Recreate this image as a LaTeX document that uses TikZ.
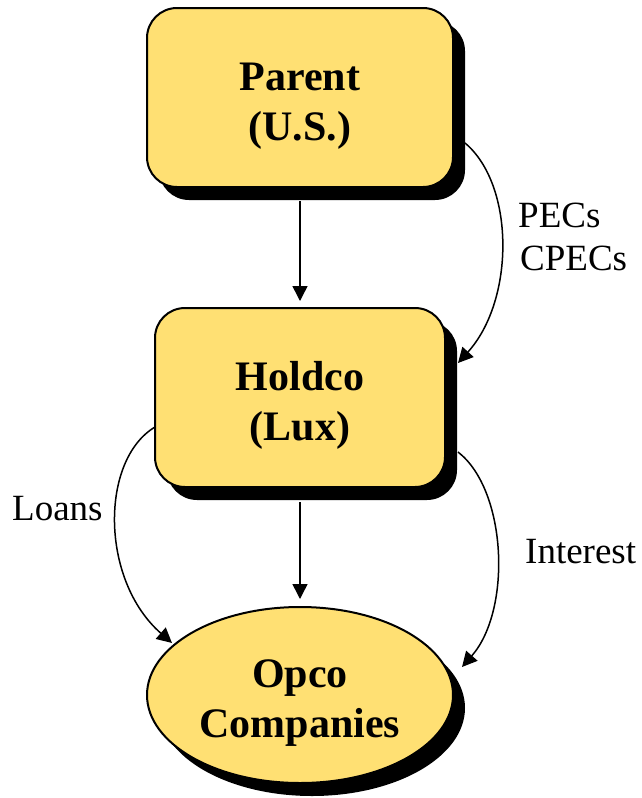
\documentclass[tikz,border=0pt]{standalone}
\usepackage{fontspec}
\setmainfont{Liberation Serif}
\usetikzlibrary{shadows,calc,arrows.meta,backgrounds,shapes.geometric}
\definecolor{boxfill}{RGB}{255,224,115}
% tall invisible strut on the first line pushes the two-line label down a little
\newcommand{\firststrut}{\rule{0pt}{44pt}}
\tikzset{
  entity/.style={draw=black, line width=2pt, fill=boxfill,
    font=\fontsize{42}{50}\selectfont\bfseries, align=center, inner sep=0pt,
    drop shadow={shadow xshift=12pt, shadow yshift=-13pt, fill=black, opacity=1}},
  entbox/.style={entity, rectangle, rounded corners=30pt},
  entoval/.style={entity, ellipse},
  flow/.style={line width=1.5pt, -{Triangle[length=15pt,width=15pt]}},
  flowlabel/.style={font=\fontsize{37}{43}\selectfont, inner sep=0pt}
}
\begin{document}
\begin{tikzpicture}[x=1pt,y=-1pt]
\useasboundingbox (0,0) rectangle (641,798);

\node[entbox, minimum width=306pt, minimum height=179pt] (parent) at (300,97.5) {\firststrut Parent\\(U.S.)};
\node[entbox, minimum width=290pt, minimum height=179pt] (holdco) at (300,397.5) {\firststrut Holdco\\(Lux)};
\node[entoval, minimum width=306pt, minimum height=176pt] (opco) at (300,695) {\firststrut Opco\\Companies};

\begin{scope}[on background layer]
  \draw[flow] ($(parent.south)+(0,13)$) -- ($(holdco.north)+(0,-6)$);
  \draw[flow] ($(holdco.south)+(0,14)$) -- ($(opco.north)+(0,-7)$);
  \draw[flow] ($(parent.center)+(165,45.5)$) .. controls (515,185) and (515,300) .. ($(holdco.center)+(158,-34.5)$);
  \draw[flow] ($(holdco.center)+(-145,29.5)$) .. controls (100,460) and (100,580) .. ($(opco.center)+(-128,-52)$);
  \draw[flow] ($(holdco.center)+(158,54.5)$) .. controls (507,490) and (512,610) .. ($(opco.center)+(162,-28)$);
\end{scope}

\node[flowlabel, anchor=base west] (pecs) at (518,227) {PECs};
\node[flowlabel, anchor=base west] (cpecs) at (520,270) {CPECs};
\node[flowlabel, anchor=base west] (loans) at (12,520) {Loans};
\node[flowlabel, anchor=base west] (interest) at (525,563) {Interest};
\end{tikzpicture}
\end{document}
